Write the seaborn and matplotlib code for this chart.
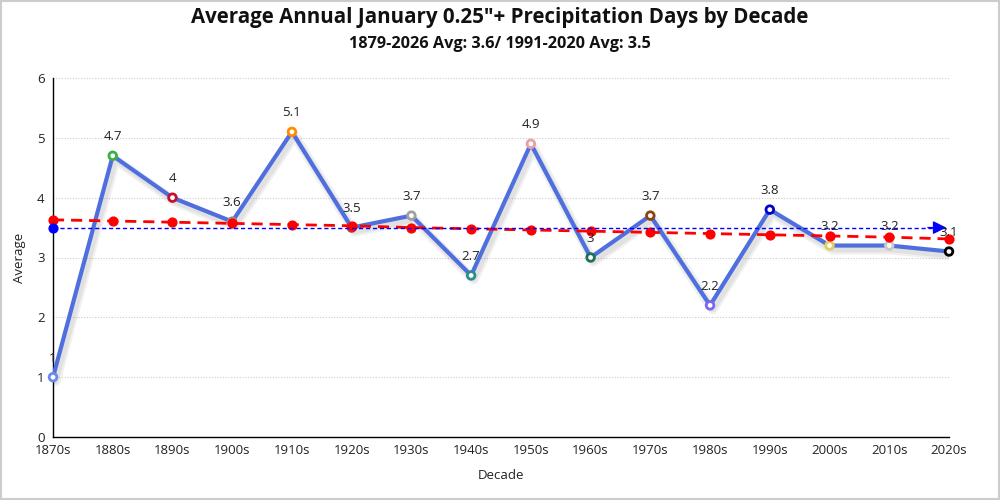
import matplotlib
matplotlib.use("Agg")
import matplotlib.pyplot as plt
import matplotlib.patheffects as pe
import seaborn as sns
import numpy as np
import pandas as pd

decades = ["1870s", "1880s", "1890s", "1900s", "1910s", "1920s", "1930s", "1940s",
           "1950s", "1960s", "1970s", "1980s", "1990s", "2000s", "2010s", "2020s"]
averages = [1.0, 4.7, 4.0, 3.6, 5.1, 3.5, 3.7, 2.7, 4.9, 3.0, 3.7, 2.2, 3.8, 3.2, 3.2, 3.1]
trend = [3.63, 3.61, 3.59, 3.57, 3.55, 3.53, 3.50, 3.48, 3.46, 3.44, 3.42, 3.40, 3.38, 3.36, 3.34, 3.31]
normal_avg = 3.5
marker_edges = ["#6a8ae8", "#3cb043", "#c8102e", "#909090", "#ff8c00", "#c04040", "#a0a0a0", "#2e8b8b",
                "#e8a0a8", "#1f6f5f", "#8b4513", "#7b68ee", "#0000cd", "#e0d060", "#c8c8c8", "#000000"]

title = "Average Annual January 0.25\"+ Precipitation Days by Decade"
subtitle = "1879-2026 Avg: 3.6/ 1991-2020 Avg: 3.5"

sns.set_theme(style="white")
plt.rcParams['font.family'] = ['Open Sans', 'DejaVu Sans']

df = pd.DataFrame({"pos": np.arange(len(decades)), "avg": averages, "trend": trend,
                   "normal": [normal_avg] * len(decades)})

fig = plt.figure(figsize=(10, 5), dpi=100)
ax = fig.add_axes([0.053, 0.126, 0.896, 0.718])

# main line with a soft shadow
sns.lineplot(data=df, x="pos", y="avg", ax=ax, color="#4f6fdf", linewidth=3, zorder=3,
             path_effects=[pe.SimpleLineShadow(offset=(2, -3), shadow_color="black", alpha=0.06, linewidth=7),
                           pe.SimpleLineShadow(offset=(2, -3), shadow_color="black", alpha=0.06, linewidth=4),
                           pe.Normal()])
ax.scatter(df["pos"], df["avg"], s=30, facecolors="white", edgecolors=marker_edges, linewidths=2,
           zorder=4, clip_on=False)

# trend line
sns.lineplot(data=df, x="pos", y="trend", ax=ax, color="red", linewidth=2, zorder=5)
ax.lines[-1].set_linestyle((0, (4, 2.5)))
ax.scatter(df["pos"], df["trend"], s=40, color="red", zorder=6, clip_on=False)

# normal average line with arrow
sns.lineplot(data=df, x="pos", y="normal", ax=ax, color="blue", linewidth=1, zorder=7)
ax.lines[-1].set_linestyle((0, (3, 2)))
ax.scatter([df["pos"].iloc[0]], [normal_avg], s=40, color="blue", zorder=8, clip_on=False)
last = df["pos"].iloc[-1]
ax.annotate("", xy=(last, normal_avg), xytext=(last - 0.4, normal_avg),
            arrowprops=dict(arrowstyle="-|>", color="blue", mutation_scale=20, lw=1), zorder=8,
            annotation_clip=False)

for x, y in zip(df["pos"], df["avg"]):
    ax.annotate(f"{y:g}", (x, y), xytext=(0, 9), textcoords="offset points", ha="center",
                va="bottom", fontsize=9.5, color="#222222", zorder=9, annotation_clip=False)

ax.set_xlim(0, len(decades) - 1)
ax.set_ylim(0, 6)
ax.set_xticks(df["pos"])
ax.set_xticklabels(decades, fontsize=9.5, color="#222222")
ax.set_yticks(range(0, 7))
ax.set_yticklabels([str(v) for v in range(0, 7)], fontsize=9.5, color="#222222")
ax.tick_params(axis="both", which="both", length=4, width=1, color="black", direction="out", pad=2)
ax.tick_params(axis="x", length=0, pad=5)
ax.yaxis.grid(True, linestyle=(0, (1, 1.5)), color="#cccccc", linewidth=0.8)
ax.set_axisbelow(True)
for s in ["top", "right"]:
    ax.spines[s].set_visible(False)
for s in ["left", "bottom"]:
    ax.spines[s].set_color("black")
    ax.spines[s].set_linewidth(1)
ax.set_xlabel("Decade", fontsize=9.5, color="#222222", labelpad=9)
ax.set_ylabel("Average", fontsize=9.5, color="#222222", labelpad=8)

fig.text(0.5, 0.965, title, ha="center", va="center", fontsize=14.8, fontweight="bold", color="#111111")
fig.text(0.5, 0.912, subtitle, ha="center", va="center", fontsize=11.7, fontweight="bold", color="#111111")

fig.patches.append(plt.Rectangle((0.001, 0.002), 0.998, 0.996, transform=fig.transFigure, fill=False,
                                 edgecolor="#cccccc", linewidth=1.5))

fig.savefig("out.png", dpi=100)
